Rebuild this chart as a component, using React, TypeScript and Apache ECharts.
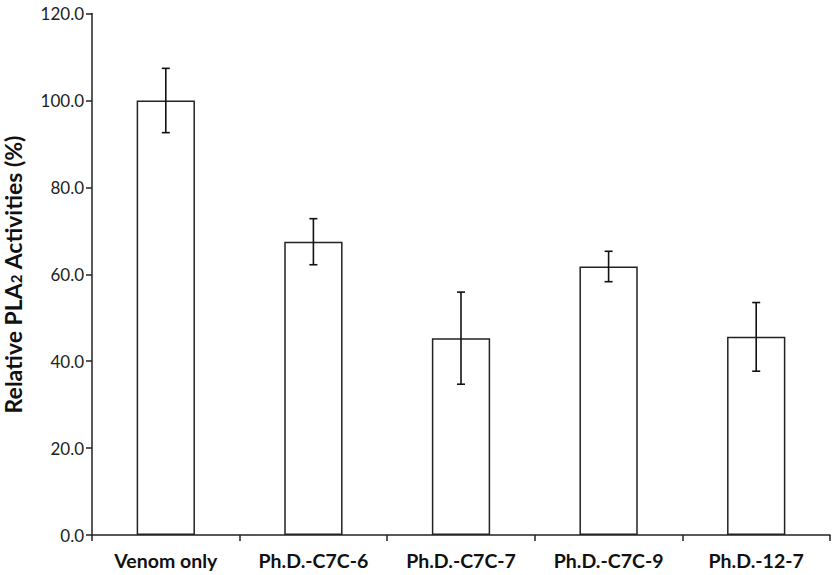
import React, { useEffect, useRef } from "react";
import * as echarts from "echarts";

const categories = ["Venom only", "Ph.D.-C7C-6", "Ph.D.-C7C-7", "Ph.D.-C7C-9", "Ph.D.-12-7"];
const values = [100.0, 67.5, 45.3, 61.8, 45.6];
const errors = [7.4, 5.3, 10.6, 3.5, 7.9];
const yTicks = [0, 20, 40, 60, 80, 100, 120];

export default function App() {
  const ref = useRef<HTMLDivElement>(null);
  useEffect(() => {
    document.body.style.margin = "0";
    const chart = echarts.init(ref.current!, null, { renderer: "svg" });
    const font = "Lato, 'Open Sans', sans-serif";
    const errData = values.map((v, i) => [i, v - errors[i], v + errors[i]]);
    chart.setOption({
      animation: false,
      grid: { left: 92, right: 2, top: 13.6, bottom: 40, containLabel: false, outerBoundsMode: "none" },
      xAxis: {
        type: "category",
        data: categories,
        axisLine: { lineStyle: { color: "#222", width: 1.5 } },
        axisTick: { show: true, length: 6, lineStyle: { color: "#222", width: 1.5 } },
        axisLabel: { color: "#111", fontFamily: font, fontWeight: "bold", fontSize: 19.5, margin: 15 },
      },
      yAxis: {
        type: "value",
        min: yTicks[0],
        max: yTicks[yTicks.length - 1],
        interval: 20,
        splitLine: { show: false },
        axisLine: { show: true, lineStyle: { color: "#222", width: 1.5 } },
        axisTick: { show: true, length: 6, lineStyle: { color: "#222", width: 1.5 } },
        axisLabel: {
          color: "#222",
          fontFamily: font,
          fontSize: 17,
          margin: 8,
          formatter: (v: number) => v.toFixed(1),
        },
        name: "{a|Relative PLA}{b|2}{a| Activities (%)}",
        nameLocation: "middle",
        nameGap: 67,
        nameRotate: 90,
        nameTextStyle: {
          rich: {
            a: { fontFamily: font, fontWeight: "bold", fontSize: 23, lineHeight: 24, color: "#111" },
            b: { fontFamily: font, fontWeight: "bold", fontSize: 15, lineHeight: 24, color: "#111", padding: [5, 0, 0, 0] },
          },
        },
      },
      series: [
        {
          type: "bar",
          data: values,
          barWidth: "39.5%",
          itemStyle: { color: "#fff", borderColor: "#222", borderWidth: 1.5 },
        },
        {
          type: "custom",
          data: errData,
          z: 10,
          renderItem: (params: any, api: any) => {
            const x = api.value(0);
            const lo = api.coord([x, api.value(1)]);
            const hi = api.coord([x, api.value(2)]);
            const cap = 4;
            const style = { stroke: "#111", lineWidth: 1.6 };
            return {
              type: "group",
              children: [
                { type: "line", shape: { x1: lo[0], y1: lo[1], x2: hi[0], y2: hi[1] }, style },
                { type: "line", shape: { x1: lo[0] - cap, y1: lo[1], x2: lo[0] + cap, y2: lo[1] }, style },
                { type: "line", shape: { x1: hi[0] - cap, y1: hi[1], x2: hi[0] + cap, y2: hi[1] }, style },
              ],
            };
          },
        },
      ],
    });
    return () => chart.dispose();
  }, []);
  return <div ref={ref} style={{ width: 832, height: 575 }} />;
}
